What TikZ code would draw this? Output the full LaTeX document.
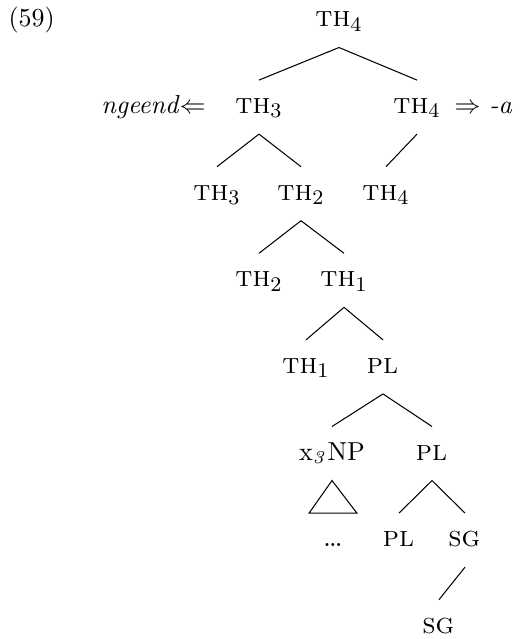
\documentclass[tikz,border=0pt]{standalone}
\usepackage{amsmath,amssymb}
\usetikzlibrary{positioning}
\newcommand{\feat}[2]{{\fontsize{11.2}{13}\selectfont\textsc{#1}$_{#2}$}}
\begin{document}
\begin{tikzpicture}[
			x=0.385pt, y=-0.385pt,
			node distance=5pt,
			lab/.style={
				inner sep=0pt,
				text height=12.7pt,
				text depth=7.7pt,
				anchor=base
			},
			branch/.style={thin}
			]
			\useasboundingbox (0,0) rectangle (522,639);
			
			\node[lab,anchor=base west] (ex) at (8,27) {(59)};
			
			\node[lab] (th4a) at (339,27) {\feat{th}{4}};
			
			\node[lab] (th3a) at (259,113.6) {\feat{th}{3}};
			\node[lab] (th4b) at (417,113.6) {\feat{th}{4}};
			
			\node[lab,left=11pt of th3a] (ngeend)
			{\textit{ngeend}$\Leftarrow$};
			\node[lab,right=5pt of th4b] (suffa)
			{$\Rightarrow$ \textit{-a}};
			
			\node[lab] (th3b) at (217,200.2) {\feat{th}{3}};
			\node[lab] (th2a) at (301,200.2) {\feat{th}{2}};
			\node[lab] (th4c) at (386,200.2) {\feat{th}{4}};
			
			\node[lab] (th2b) at (259,286.8) {\feat{th}{2}};
			\node[lab] (th1a) at (344,286.8) {\feat{th}{1}};
			
			\node[lab] (th1b) at (306,373.4) {\feat{th}{1}};
			\node[lab] (pla) at (383,373.4) {\feat{pl}{}};
			
			\node[lab] (np) at (332,460) {x$_{\mathit{3}}$NP};
			\node[lab] (plb) at (432,460) {\feat{pl}{}};
			
			\node[lab] (dots) at (333,546.6) {\large\dots};
			\node[lab] (plc) at (399,546.6) {\feat{pl}{}};
			\node[lab] (sga) at (465,546.6) {\feat{sg}{}};
			
			\node[lab] (sgb) at (439,633.2) {\feat{sg}{}};
			
			\draw[branch] (th4a.south)--(th3a.north);
			\draw[branch] (th4a.south)--(th4b.north);
			\draw[branch] (th3a.south)--(th3b.north);
			\draw[branch] (th3a.south)--(th2a.north);
			\draw[branch] (th4b.south)--(th4c.north);
			\draw[branch] (th2a.south)--(th2b.north);
			\draw[branch] (th2a.south)--(th1a.north);
			\draw[branch] (th1a.south)--(th1b.north);
			\draw[branch] (th1a.south)--(pla.north);
			\draw[branch] (pla.south)--(np.north);
			\draw[branch] (pla.south)--(plb.north);
			\draw[branch] (np.south)--([xshift=-9.2pt]dots.north)
				--([xshift=9.2pt]dots.north)--cycle;
			\draw[branch] (plb.south)--(plc.north);
			\draw[branch] (plb.south)--(sga.north);
			\draw[branch] (sga.south)--(sgb.north);
			
		\end{tikzpicture}
\end{document}
